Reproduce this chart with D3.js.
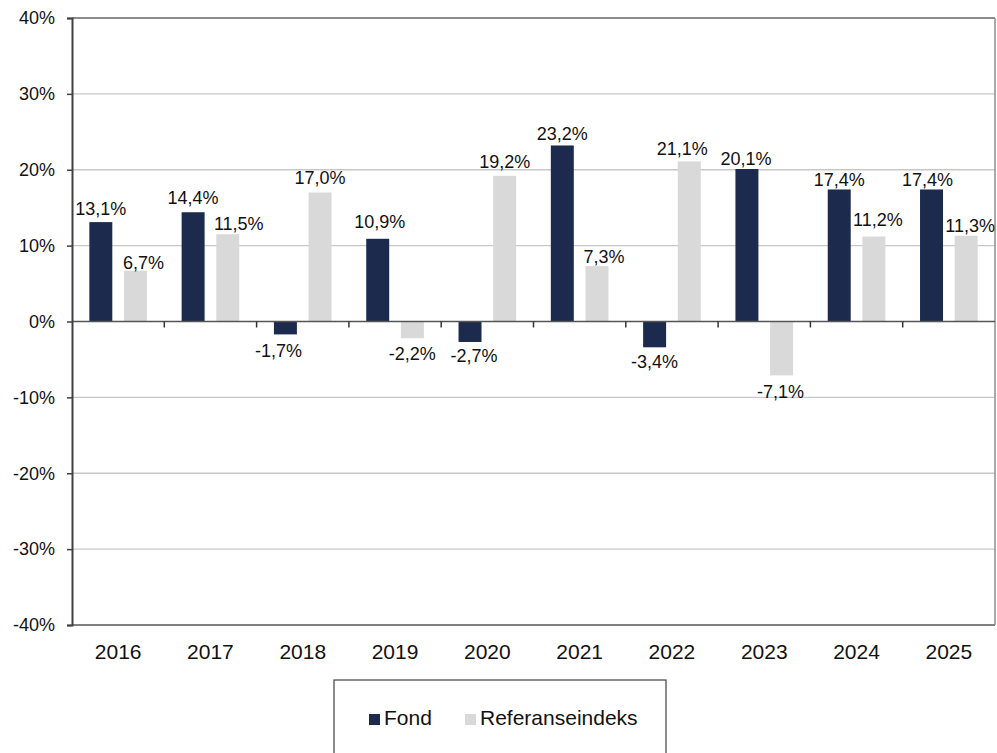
<!DOCTYPE html>
<html lang="en">
<head>
<meta charset="UTF-8">
<title>Fond vs Referanseindeks</title>
<script src="https://d3js.org/d3.v7.min.js"></script>
<style>
  body { margin: 0; background: #fff; }
  svg { display: block; font-family: "Liberation Sans", Arial, sans-serif; }
</style>
</head>
<body>
<svg></svg>
<script>
const years = ["2016", "2017", "2018", "2019", "2020", "2021", "2022", "2023", "2024", "2025"];
const fond = [13.1, 14.4, -1.7, 10.9, -2.7, 23.2, -3.4, 20.1, 17.4, 17.4];
const referanse = [6.7, 11.5, 17.0, -2.2, 19.2, 7.3, 21.1, -7.1, 11.2, 11.3];
const yTicks = [-40, -30, -20, -10, 0, 10, 20, 30, 40];
const seriesNames = ["Fond", "Referanseindeks"];
const colors = { "Fond": "#1c2a4e", "Referanseindeks": "#d9d9d9" };

// small hand nudges of the value labels (px), as placed in the original
const nudgeFond = [[0, 0], [0, -1], [-7, 1], [2, -4], [4, -2], [0, 2], [0, -1], [-1, 3], [0, 4], [-4, 4]];
const nudgeRef = [[8, 5], [11, 3], [0, -2], [0, 0], [0, -1], [7, 4], [-7, 1], [-1, 1], [4, -4], [4, 3]];

const W = 997, H = 753;
const margin = { top: 18, right: 2, bottom: 128, left: 72 };
const width = W - margin.left - margin.right;
const height = H - margin.top - margin.bottom;

const svg = d3.select("svg").attr("width", W).attr("height", H);
const g = svg.append("g").attr("transform", `translate(${margin.left},${margin.top})`);

const x = d3.scaleBand().domain(years).range([0, width]).padding(0);
const xs = d3.scaleBand().domain(seriesNames).range([0, x.bandwidth()])
    .paddingInner(0.337).paddingOuter(0.5);
const y = d3.scaleLinear().domain([-40, 40]).range([height, 0]);

// grid lines
g.append("g").selectAll("line")
    .data(yTicks.filter(t => t !== 40 && t !== -40 && t !== 0))
    .join("line")
    .attr("x1", 0).attr("x2", width)
    .attr("y1", d => y(d)).attr("y2", d => y(d))
    .attr("stroke", "#c8c8c8").attr("stroke-width", 1.3);

// frame top / right / bottom
g.append("line").attr("x1", 0).attr("x2", width).attr("y1", y(40)).attr("y2", y(40))
    .attr("stroke", "#8c8c8c").attr("stroke-width", 2);
g.append("line").attr("x1", width).attr("x2", width).attr("y1", y(40)).attr("y2", y(-40))
    .attr("stroke", "#8c8c8c").attr("stroke-width", 1.5);
g.append("line").attr("x1", 0).attr("x2", width).attr("y1", y(-40)).attr("y2", y(-40))
    .attr("stroke", "#808080").attr("stroke-width", 2);

// bars
const rows = years.map((yr, i) => ({ year: yr, values: [
    { key: "Fond", value: fond[i], nudge: nudgeFond[i] },
    { key: "Referanseindeks", value: referanse[i], nudge: nudgeRef[i] }
]}));

const groups = g.selectAll(".grp").data(rows).join("g")
    .attr("class", "grp")
    .attr("transform", d => `translate(${x(d.year)},0)`);

groups.selectAll("rect").data(d => d.values).join("rect")
    .attr("x", d => xs(d.key))
    .attr("width", xs.bandwidth())
    .attr("y", d => y(Math.max(0, d.value)))
    .attr("height", d => Math.abs(y(d.value) - y(0)))
    .attr("fill", d => colors[d.key]);

groups.selectAll("text").data(d => d.values).join("text")
    .attr("x", d => xs(d.key) + xs.bandwidth() / 2 + d.nudge[0])
    .attr("y", d => (d.value >= 0 ? y(d.value) - 7 : y(d.value) + 22) + d.nudge[1])
    .attr("text-anchor", "middle")
    .attr("font-size", 18)
    .attr("fill", "#111")
    .text(d => d.value.toFixed(1).replace(".", ",") + "%");

// zero axis with ticks between categories
g.append("line").attr("x1", 0).attr("x2", width).attr("y1", y(0)).attr("y2", y(0))
    .attr("stroke", "#555").attr("stroke-width", 1.5);
g.append("g").selectAll("line").data(years.slice(1))
    .join("line")
    .attr("x1", d => x(d)).attr("x2", d => x(d))
    .attr("y1", y(0)).attr("y2", y(0) + 6)
    .attr("stroke", "#333").attr("stroke-width", 1.5);

// left axis
const yAxis = g.append("g")
    .call(d3.axisLeft(y).tickValues(yTicks).tickSize(5).tickPadding(12)
        .tickFormat(d => d + "%"));
yAxis.select(".domain").attr("stroke", "#404040").attr("stroke-width", 2);
yAxis.selectAll(".tick line").attr("stroke", "#404040").attr("stroke-width", 1.5);
yAxis.selectAll(".tick text").attr("font-size", 18).attr("fill", "#111")
    .attr("font-family", "Liberation Sans, Arial, sans-serif");

// category labels
g.append("g").selectAll("text").data(years).join("text")
    .attr("x", d => x(d) + x.bandwidth() / 2)
    .attr("y", height + 34)
    .attr("text-anchor", "middle")
    .attr("font-size", 21)
    .attr("fill", "#111")
    .text(d => d);

// legend
const legend = svg.append("g").attr("transform", "translate(334,680)");
legend.append("rect").attr("x", 0).attr("y", 0).attr("width", 332).attr("height", 90)
    .attr("fill", "none").attr("stroke", "#404040").attr("stroke-width", 1.2);
const legendX = [35, 131];
seriesNames.forEach((name, i) => {
    const item = legend.append("g").attr("transform", `translate(${legendX[i]},34)`);
    item.append("rect").attr("width", 11).attr("height", 11).attr("fill", colors[name]);
    item.append("text").attr("x", 15).attr("y", 11).attr("font-size", 21)
        .attr("fill", "#111").text(name);
});
</script>
</body>
</html>
